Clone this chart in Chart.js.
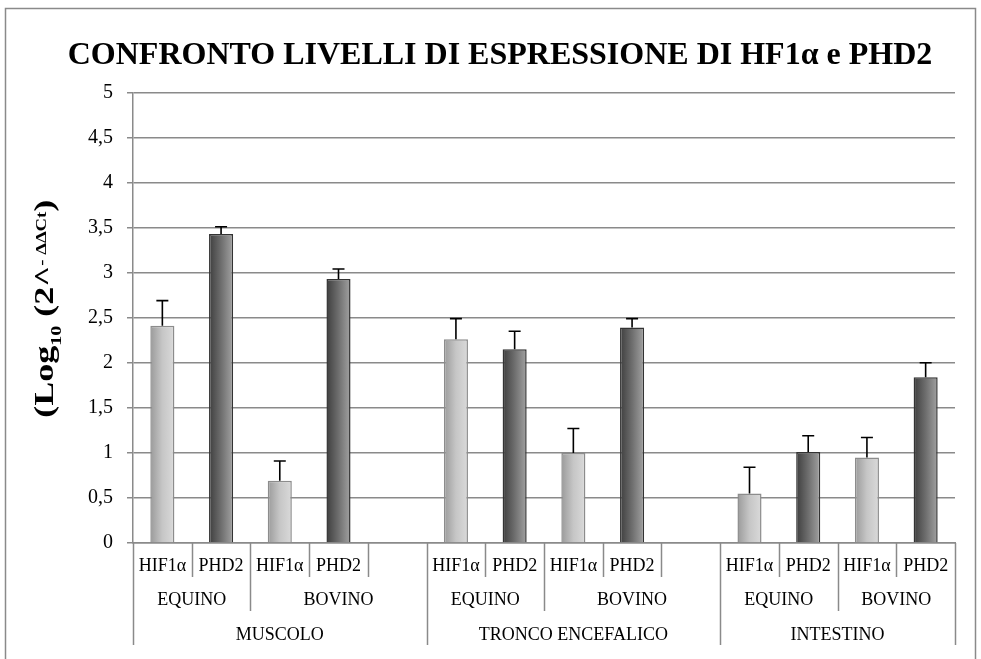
<!DOCTYPE html>
<html>
<head>
<meta charset="utf-8">
<script src="https://cdn.jsdelivr.net/npm/chart.js@4"></script>
<style>
  body { margin: 0; background: #fff; }
  canvas { display: block; }
</style>
</head>
<body>
<canvas id="livelli" width="981" height="659"></canvas>
<script>
// categorie dell'asse x su tre livelli
const tissues = ["MUSCOLO", "TRONCO ENCEFALICO", "INTESTINO"];
const species = ["EQUINO", "BOVINO"];
const genes = ["HIF1α", "PHD2"];

// Log10(2^-ΔΔCt), ordine: MUSCOLO eq/bov, TRONCO eq/bov, INTESTINO eq/bov
const hif1aValues = [2.41, 0.69, 2.26, 1.00, 0.55, 0.95];
const hif1aErrors = [0.28, 0.22, 0.23, 0.27, 0.29, 0.22];
const phd2Values = [3.43, 2.93, 2.15, 2.39, 1.01, 1.84];
const phd2Errors = [0.08, 0.11, 0.20, 0.10, 0.18, 0.16];

const titleText = "CONFRONTO LIVELLI DI ESPRESSIONE DI HF1α e PHD2";

// una colonna per gene, piu' una riga vuota dopo ogni tessuto tranne l'ultimo
const slots = [];
tissues.forEach((tissue, t) => {
  species.forEach((sp, s) => {
    genes.forEach((gene, g) => {
      slots.push({ tissue: t, species: s, gene: g, label: gene, idx: t * species.length + s });
    });
  });
  if (t < tissues.length - 1) {
    slots.push({ tissue: t, species: species.length - 1, gene: -1, label: "", idx: -1 });
  }
});

const pick = (arr, g) => slots.map(s => s.gene === g ? arr[s.idx] : null);

const FONT = "'Liberation Serif', 'Times New Roman', serif";
const GRID = "#8a8a8a";
const BAR_PCT = 0.41;

// gradiente orizzontale su ogni barra, dal bordo sinistro al destro
function barGradient(stops) {
  return (c) => {
    const chart = c.chart;
    const x = chart.scales.x;
    if (!chart.chartArea || !x || x.width == null) return stops[stops.length - 1][1];
    const cx = x.getPixelForValue(c.dataIndex);
    const w = x.width / slots.length * BAR_PCT;
    const g = chart.ctx.createLinearGradient(cx - w / 2, 0, cx + w / 2, 0);
    stops.forEach(([o, col]) => g.addColorStop(o, col));
    return g;
  };
}

const frame = {
  id: "frame",
  beforeDraw(chart) {
    const { ctx, width, height } = chart;
    ctx.save();
    ctx.fillStyle = "#fff";
    ctx.fillRect(0, 0, width, height);
    ctx.strokeStyle = GRID;
    ctx.lineWidth = 1.5;
    ctx.strokeRect(5.5, 8.5, 970, height + 20);
    ctx.restore();
  }
};

const errorBars = {
  id: "errorBars",
  afterDatasetsDraw(chart) {
    const { ctx, scales: { y } } = chart;
    ctx.save();
    ctx.strokeStyle = "#000";
    ctx.lineWidth = 1.6;
    chart.data.datasets.forEach((ds, i) => {
      chart.getDatasetMeta(i).data.forEach((bar, j) => {
        const v = ds.data[j];
        if (v == null) return;
        const top = y.getPixelForValue(v + ds.errors[j]);
        ctx.beginPath();
        ctx.moveTo(bar.x, bar.y);
        ctx.lineTo(bar.x, top);
        ctx.moveTo(bar.x - 6, top);
        ctx.lineTo(bar.x + 6, top);
        ctx.stroke();
      });
    });
    ctx.restore();
  }
};

// etichette a tre righe sotto l'asse, con i separatori verticali
const categoryRows = {
  id: "categoryRows",
  afterDraw(chart) {
    const { ctx, scales: { x }, chartArea } = chart;
    const n = slots.length;
    const slotW = x.width / n;
    const base = chartArea.bottom;
    const rowText = [base + 23, base + 57, base + 92];
    const rowEnd = [base + 34, base + 68, base + 102];
    const edge = i => x.getPixelForValue(0) - slotW / 2 + i * slotW;

    ctx.save();
    ctx.strokeStyle = GRID;
    ctx.lineWidth = 1.5;
    for (let i = 0; i <= n; i++) {
      let level = 0;
      if (i === 0 || i === n || slots[i].tissue !== slots[i - 1].tissue) level = 2;
      else if (slots[i].species !== slots[i - 1].species) level = 1;
      const px = Math.round(edge(i)) + 0.5;
      ctx.beginPath();
      ctx.moveTo(px, base);
      ctx.lineTo(px, rowEnd[level]);
      ctx.stroke();
    }

    ctx.fillStyle = "#000";
    ctx.font = "18px " + FONT;
    ctx.textAlign = "center";
    ctx.textBaseline = "middle";
    slots.forEach((s, i) => ctx.fillText(s.label, x.getPixelForValue(i), rowText[0]));

    const runs = (key) => {
      const out = [];
      slots.forEach((s, i) => {
        const k = key(s);
        const last = out[out.length - 1];
        if (last && last.k === k) last.end = i;
        else out.push({ k, start: i, end: i, s });
      });
      return out;
    };
    runs(s => s.tissue + "-" + s.species).forEach(r => {
      ctx.fillText(species[r.s.species], (edge(r.start) + edge(r.end + 1)) / 2, rowText[1]);
    });
    runs(s => s.tissue).forEach(r => {
      ctx.fillText(tissues[r.s.tissue], (edge(r.start) + edge(r.end + 1)) / 2, rowText[2]);
    });
    ctx.restore();
  }
};

// titolo asse y con pedice e apice: (Log10 (2^- ΔΔCt)
const yTitle = {
  id: "yTitle",
  afterDraw(chart) {
    const { ctx, chartArea } = chart;
    const parts = [
      { t: "(Log", size: 27, dy: 0 },
      { t: "10", size: 15, dy: 8 },
      { t: " (2^", size: 27, dy: 0 },
      { t: "- ΔΔCt", size: 14, dy: -7 },
      { t: ")", size: 27, dy: 0 }
    ];
    ctx.save();
    let total = 0;
    parts.forEach(p => {
      ctx.font = "bold " + p.size + "px " + FONT;
      p.w = ctx.measureText(p.t).width;
      total += p.w;
    });
    const stretch = 218 / total;
    ctx.translate(53, (chartArea.top + chartArea.bottom) / 2 - 9);
    ctx.rotate(-Math.PI / 2);
    ctx.scale(stretch, 1);
    ctx.fillStyle = "#000";
    ctx.textBaseline = "alphabetic";
    let u = -total / 2;
    parts.forEach(p => {
      ctx.font = "bold " + p.size + "px " + FONT;
      ctx.fillText(p.t, u, p.dy);
      u += p.w;
    });
    ctx.restore();
  }
};

new Chart(document.getElementById("livelli"), {
  type: "bar",
  data: {
    labels: slots.map(s => s.label),
    datasets: [
      {
        label: genes[0],
        data: pick(hif1aValues, 0),
        errors: pick(hif1aErrors, 0),
        backgroundColor: barGradient([[0, "#9a9a9a"], [0.5, "#c6c6c6"], [1, "#dadada"]]),
        borderColor: "#8c8c8c",
        borderWidth: 1.5
      },
      {
        label: genes[1],
        data: pick(phd2Values, 1),
        errors: pick(phd2Errors, 1),
        backgroundColor: barGradient([[0, "#3e3e3e"], [0.5, "#6e6e6e"], [1, "#a2a2a2"]]),
        borderColor: "#333",
        borderWidth: 1.5
      }
    ]
  },
  options: {
    responsive: false,
    animation: false,
    skipNull: true,
    barPercentage: BAR_PCT,
    categoryPercentage: 1,
    layout: { padding: { left: 45, right: 26, top: 0, bottom: 116 } },
    plugins: {
      legend: { display: false },
      tooltip: { enabled: false },
      title: {
        display: true,
        text: titleText,
        color: "#000",
        font: { family: FONT, size: 32, weight: "bold", lineHeight: 1.2 },
        padding: { top: 37, bottom: 17 }
      }
    },
    scales: {
      x: {
        ticks: { display: false },
        grid: { display: false, drawTicks: false },
        border: { color: GRID, width: 1.5 }
      },
      y: {
        min: 0,
        max: 5,
        afterFit(scale) { scale.width = 88; },
        ticks: {
          stepSize: 0.5,
          padding: 14,
          color: "#000",
          font: { family: FONT, size: 20 },
          callback: v => String(v).replace(".", ",")
        },
        grid: { color: GRID, lineWidth: 1.5, tickLength: 6 },
        border: { color: GRID, width: 1.5 }
      }
    }
  },
  plugins: [frame, errorBars, categoryRows, yTitle]
});
</script>
</body>
</html>
